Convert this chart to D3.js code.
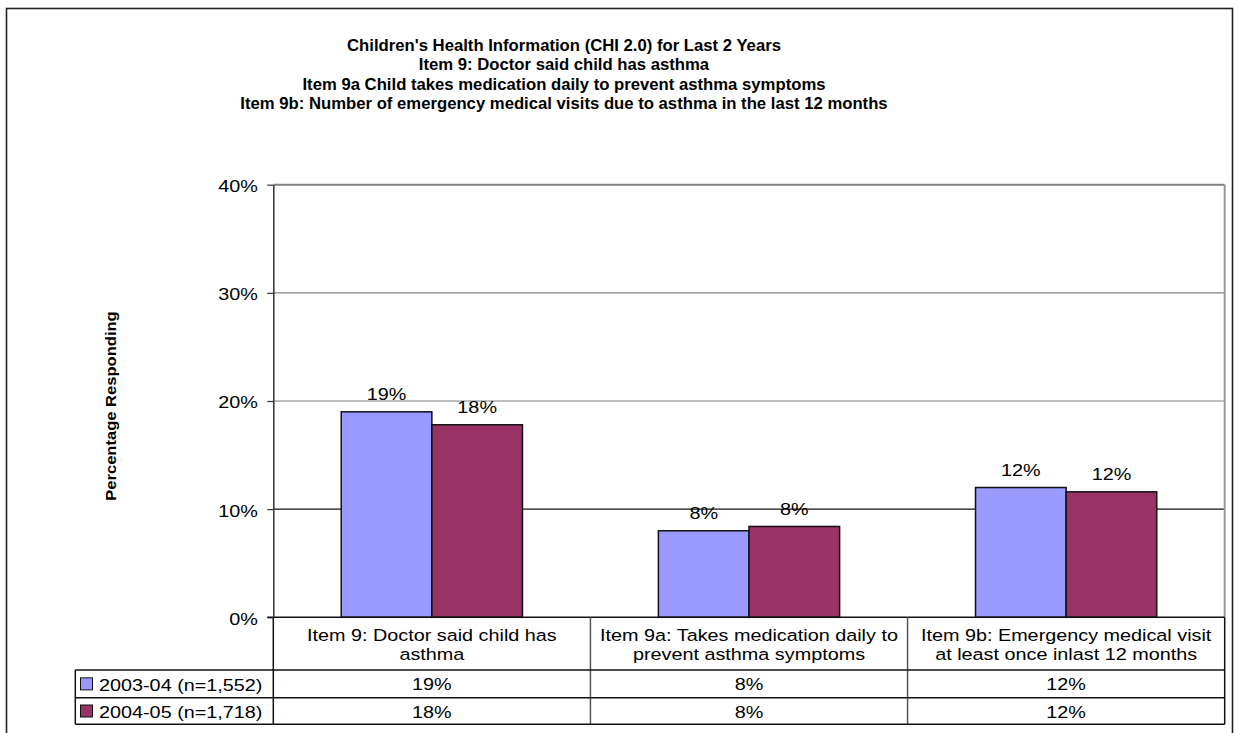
<!DOCTYPE html>
<html>
<head>
<meta charset="utf-8">
<script src="https://cdn.jsdelivr.net/npm/d3@7"></script>
<style>
  html, body { margin: 0; padding: 0; background: #fff; }
  svg { display: block; font-family: "Liberation Sans", Arial, sans-serif; }
</style>
</head>
<body>
<svg id="chart" width="1239" height="733"></svg>
<script>
// Chart data
const titleLines = [
  "Children's Health Information (CHI 2.0) for Last 2 Years",
  "Item 9: Doctor said child has asthma",
  "Item 9a Child takes medication daily to prevent asthma symptoms",
  "Item 9b: Number of emergency medical visits due to asthma in the last 12 months"
];
const categories = [
  ["Item 9: Doctor said child has", "asthma"],
  ["Item 9a: Takes medication daily to", "prevent asthma symptoms"],
  ["Item 9b: Emergency medical visit", "at least once inlast 12 months"]
];
const seriesNames = ["2003-04 (n=1,552)", "2004-05 (n=1,718)"];
const values2003 = [0.19, 0.08, 0.12];
const values2004 = [0.178, 0.084, 0.116];
const yTicks = [0, 0.1, 0.2, 0.3, 0.4];
const seriesColors = ["#9999FF", "#993366"];

const svg = d3.select("#chart");
const pct = d3.format(".0%");

const FS = 16.5;   // body text size
const SX = 1.2;    // horizontal widening of the body face

const plot = { left: 273.3, right: 1224.7, top: 184.7, bottom: 617.3 };
const table = { left: 75.3, row1: 670, row2: 697.7, row3: 724.3 };

// Places a text element at (x, y) with the widened body face
function place(sel, x, y) {
  sel.attr("x", 0).attr("y", 0)
    .attr("transform", d => `translate(${typeof x === "function" ? x(d) : x},${typeof y === "function" ? y(d) : y}) scale(${SX},1)`)
    .attr("font-size", FS).attr("fill", "#000");
  return sel;
}

// Outer frame
svg.append("rect")
  .attr("x", 6.5).attr("y", 8.5).attr("width", 1226).attr("height", 760)
  .attr("fill", "none").attr("stroke", "#222").attr("stroke-width", 1.6);

// Title
svg.append("g").selectAll("text").data(titleLines).join("text")
  .attr("x", 564).attr("y", (d, i) => 51 + i * 19.3)
  .attr("text-anchor", "middle")
  .attr("font-weight", "bold").attr("font-size", 16.7)
  .attr("fill", "#000")
  .text(d => d);

const seriesData = [values2003, values2004];
const catIdx = d3.range(categories.length);

const x = d3.scaleBand().domain(catIdx).range([plot.left, plot.right]).padding(0);
const xs = d3.scaleBand().domain(d3.range(seriesData.length))
  .range([0, x.bandwidth()]).paddingInner(0).paddingOuter(0.75);
const y = d3.scaleLinear().domain([0, 0.4]).range([plot.bottom, plot.top]);

// Gridlines
svg.append("g").selectAll("line").data(yTicks.filter(t => t > 0)).join("line")
  .attr("x1", plot.left).attr("x2", plot.right)
  .attr("y1", d => y(d)).attr("y2", d => y(d))
  .attr("stroke", d => d === 0.1 ? "#111" : "#808080")
  .attr("stroke-width", d => d === 0.4 ? 2 : 1.2);

// Plot right border
svg.append("line")
  .attr("x1", plot.right).attr("x2", plot.right)
  .attr("y1", plot.top).attr("y2", plot.bottom)
  .attr("stroke", "#999").attr("stroke-width", 2);

// Bars
const groups = svg.append("g").selectAll("g").data(catIdx).join("g")
  .attr("transform", c => `translate(${x(c)},0)`);
groups.selectAll("rect")
  .data(c => seriesData.map((s, i) => ({ i, v: s[c] })))
  .join("rect")
  .attr("x", d => xs(d.i)).attr("width", xs.bandwidth())
  .attr("y", d => y(d.v)).attr("height", d => y(0) - y(d.v))
  .attr("fill", d => seriesColors[d.i])
  .attr("stroke", "#111").attr("stroke-width", 1.5);

// Data labels
groups.selectAll("text")
  .data(c => seriesData.map((s, i) => ({ i, v: s[c] })))
  .join("text")
  .attr("text-anchor", "middle")
  .call(place, d => xs(d.i) + xs.bandwidth() / 2, d => y(d.v) - 11.7)
  .text(d => pct(d.v));

// Y axis
const yAxis = d3.axisLeft(y).tickValues(yTicks).tickFormat(pct).tickSize(6).tickSizeOuter(0);
const yg = svg.append("g").attr("transform", `translate(${plot.left},0)`).call(yAxis);
yg.select(".domain").attr("stroke", "#333").attr("stroke-width", 1.5);
yg.selectAll(".tick line").attr("stroke", "#333").attr("stroke-width", 1.2);
yg.selectAll(".tick text")
  .attr("font-family", "Liberation Sans, Arial, sans-serif")
  .call(place, -15.5, 0)
  .attr("dy", "0.42em");

// Y axis title
svg.append("text")
  .attr("transform", `translate(116,406) rotate(-90) scale(${SX},1)`)
  .attr("text-anchor", "middle").attr("font-weight", "bold").attr("font-size", 13.8)
  .attr("fill", "#000")
  .text("Percentage Responding");

// Baseline
svg.append("line")
  .attr("x1", plot.left - 6).attr("x2", plot.right)
  .attr("y1", y(0)).attr("y2", y(0))
  .attr("stroke", "#111").attr("stroke-width", 1.5);

// Data table: vertical dividers at category boundaries
const boundaries = catIdx.map(c => x(c)).concat([plot.right]);
svg.append("g").selectAll("line").data(boundaries).join("line")
  .attr("x1", d => d).attr("x2", d => d)
  .attr("y1", y(0)).attr("y2", table.row3)
  .attr("stroke", (d, i) => (i === 0 || i === boundaries.length - 1) ? "#111" : "#555")
  .attr("stroke-width", 1.5);

// Table horizontal rules
svg.append("g").selectAll("line").data([table.row1, table.row2, table.row3]).join("line")
  .attr("x1", table.left).attr("x2", plot.right)
  .attr("y1", d => d).attr("y2", d => d)
  .attr("stroke", "#111").attr("stroke-width", 1.5);
svg.append("line")
  .attr("x1", table.left).attr("x2", table.left)
  .attr("y1", table.row1).attr("y2", table.row3)
  .attr("stroke", "#111").attr("stroke-width", 1.5);

// Category labels (two lines each)
const catLines = catIdx.flatMap(c => categories[c].map((line, k) => ({ c, k, line })));
svg.append("g").selectAll("text").data(catLines).join("text")
  .attr("text-anchor", "middle")
  .call(place, d => x(d.c) + x.bandwidth() / 2, d => 640.5 + d.k * 19.5)
  .text(d => d.line);

// Table rows: legend keys and values
const rowBounds = [[table.row1, table.row2], [table.row2, table.row3]];
seriesData.forEach((s, i) => {
  const cy = (rowBounds[i][0] + rowBounds[i][1]) / 2;
  svg.append("rect")
    .attr("x", 80.5).attr("y", cy - 6).attr("width", 12).attr("height", 12)
    .attr("fill", seriesColors[i]).attr("stroke", "#111").attr("stroke-width", 1);
  svg.append("text")
    .call(place, 99, cy + 7)
    .text(seriesNames[i]);
  svg.append("g").selectAll("text").data(catIdx).join("text")
    .attr("text-anchor", "middle")
    .call(place, c => x(c) + x.bandwidth() / 2, cy + 6.5)
    .text(c => pct(s[c]));
});
</script>
</body>
</html>
